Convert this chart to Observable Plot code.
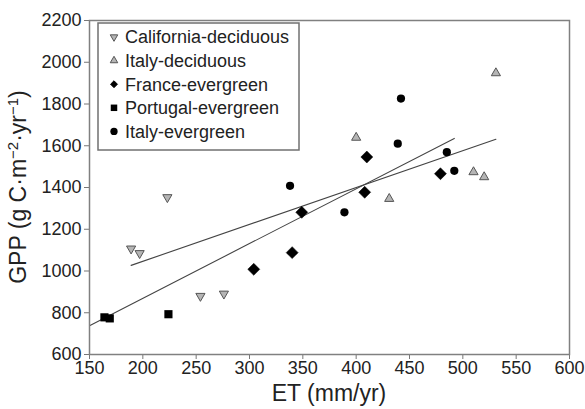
<!DOCTYPE html>
<html>
<head>
<meta charset="utf-8">
<script src="https://cdn.jsdelivr.net/npm/d3@7"></script>
<script src="https://cdn.jsdelivr.net/npm/@observablehq/plot@0.6"></script>
<style>
  html, body { margin: 0; padding: 0; background: #fff; }
  #chart { width: 585px; height: 409px; }
</style>
</head>
<body>
<div id="chart"></div>
<script>
// Annual evapotranspiration (ET, mm/yr) versus gross primary production (GPP) by site group
const seriesNames = ["California-deciduous", "Italy-deciduous", "France-evergreen", "Portugal-evergreen", "Italy-evergreen"];

const californiaDecET  = [189, 197, 223, 254, 276];
const californiaDecGPP = [1107, 1085, 1353, 880, 891];

const italyDecET  = [400, 431, 510, 520, 531];
const italyDecGPP = [1639, 1346, 1474, 1450, 1948];

const franceEvET  = [304, 340, 349, 408, 410, 479];
const franceEvGPP = [1008, 1088, 1281, 1377, 1546, 1466];

const portugalEvET  = [164, 169, 224];
const portugalEvGPP = [778, 773, 793];

const italyEvET  = [338, 389, 439, 442, 485, 492];
const italyEvGPP = [1408, 1281, 1610, 1826, 1569, 1480];

// Fitted trend lines (end points): deciduous and evergreen groups
const deciduousFitET  = [189, 531];
const deciduousFitGPP = [1027, 1631];
const evergreenFitET  = [150, 492];
const evergreenFitGPP = [738, 1635];

const xTicks = [150, 200, 250, 300, 350, 400, 450, 500, 550, 600];
const yTicks = [600, 800, 1000, 1200, 1400, 1600, 1800, 2000, 2200];

const rows = (xs, ys) => xs.map((x, i) => ({et: x, gpp: ys[i]}));

const font = "'Liberation Sans', Arial, Helvetica, sans-serif";
const margin = {left: 89, right: 16, top: 20, bottom: 55};
const W = 585, H = 409;

const svg = Plot.plot({
  width: W,
  height: H,
  marginLeft: margin.left,
  marginRight: margin.right,
  marginTop: margin.top,
  marginBottom: margin.bottom,
  style: {fontFamily: font, fontSize: "18px", color: "#222", background: "#fff"},
  x: {domain: [150, 600]},
  y: {domain: [600, 2200]},
  marks: [
    Plot.axisX({ticks: xTicks, tickFormat: d => String(d), tickSize: 5, tickPadding: 2, label: null, stroke: "#777", fill: "#222"}),
    Plot.axisY({ticks: yTicks, tickFormat: d => String(d), tickSize: 5, tickPadding: 3, label: null, stroke: "#777", fill: "#222"}),
    Plot.line(rows(deciduousFitET, deciduousFitGPP), {x: "et", y: "gpp", stroke: "#444", strokeWidth: 1.1}),
    Plot.line(rows(evergreenFitET, evergreenFitGPP), {x: "et", y: "gpp", stroke: "#444", strokeWidth: 1.1}),
    Plot.dot(rows(californiaDecET, californiaDecGPP), {x: "et", y: "gpp", symbol: "triangle", rotate: 180, r: 3.4, fill: "#b5b5b5", stroke: "#555", strokeWidth: 1}),
    Plot.dot(rows(italyDecET, italyDecGPP), {x: "et", y: "gpp", symbol: "triangle", r: 3.4, fill: "#b5b5b5", stroke: "#555", strokeWidth: 1}),
    Plot.dot(rows(franceEvET, franceEvGPP), {x: "et", y: "gpp", symbol: "diamond2", r: 5.4, fill: "#000", stroke: "#000", strokeWidth: 0.5}),
    Plot.dot(rows(portugalEvET, portugalEvGPP), {x: "et", y: "gpp", symbol: "square", r: 4.6, fill: "#000", stroke: "none"}),
    Plot.dot(rows(italyEvET, italyEvGPP), {x: "et", y: "gpp", symbol: "circle", r: 4.1, fill: "#000", stroke: "none"}),
    Plot.frame({stroke: "#808080", strokeWidth: 1.5})
  ]
});

document.getElementById("chart").appendChild(svg);

const root = d3.select(svg);
const plotLeft = margin.left, plotRight = W - margin.right;
const plotTop = margin.top, plotBottom = H - margin.bottom;

// Axis titles
root.append("text")
  .attr("x", (plotLeft + plotRight) / 2)
  .attr("y", plotBottom + 47)
  .attr("text-anchor", "middle")
  .attr("font-family", font)
  .attr("font-size", 23)
  .attr("fill", "#222")
  .text("ET (mm/yr)");

const yTitle = root.append("text")
  .attr("transform", `translate(${plotLeft - 63},${(plotTop + plotBottom) / 2}) rotate(-90)`)
  .attr("text-anchor", "middle")
  .attr("font-family", font)
  .attr("font-size", 23)
  .attr("fill", "#222");
yTitle.append("tspan").text("GPP (g C\u00B7m");
yTitle.append("tspan").attr("baseline-shift", "super").attr("font-size", 15).text("\u22122");
yTitle.append("tspan").text("\u00B7yr");
yTitle.append("tspan").attr("baseline-shift", "super").attr("font-size", 15).text("\u22121");
yTitle.append("tspan").text(")");

// Legend box in the upper-left corner of the plotting area
const legend = root.append("g").attr("transform", `translate(${plotLeft + 9},${plotTop + 3})`);
legend.append("rect")
  .attr("width", 201).attr("height", 127)
  .attr("fill", "#fff").attr("stroke", "#707070").attr("stroke-width", 1.5);

const legendSymbols = [
  {type: d3.symbolTriangle2, size: 40, rotate: 180, fill: "#b5b5b5", stroke: "#555"},
  {type: d3.symbolTriangle2, size: 40, rotate: 0, fill: "#b5b5b5", stroke: "#555"},
  {type: d3.symbolDiamond2, size: 30, rotate: 0, fill: "#000", stroke: "#000"},
  {type: d3.symbolSquare, size: 42, rotate: 0, fill: "#000", stroke: "none"},
  {type: d3.symbolCircle, size: 42, rotate: 0, fill: "#000", stroke: "none"}
];

seriesNames.forEach((name, i) => {
  const cy = 14 + i * 23.6;
  const s = legendSymbols[i];
  legend.append("path")
    .attr("d", d3.symbol(s.type, s.size)())
    .attr("transform", `translate(16,${cy}) rotate(${s.rotate})`)
    .attr("fill", s.fill)
    .attr("stroke", s.stroke)
    .attr("stroke-width", 1);
  legend.append("text")
    .attr("x", 27)
    .attr("y", cy)
    .attr("dy", "0.35em")
    .attr("text-anchor", "start")
    .attr("font-family", font)
    .attr("font-size", 18)
    .attr("fill", "#222")
    .text(name);
});
</script>
</body>
</html>
